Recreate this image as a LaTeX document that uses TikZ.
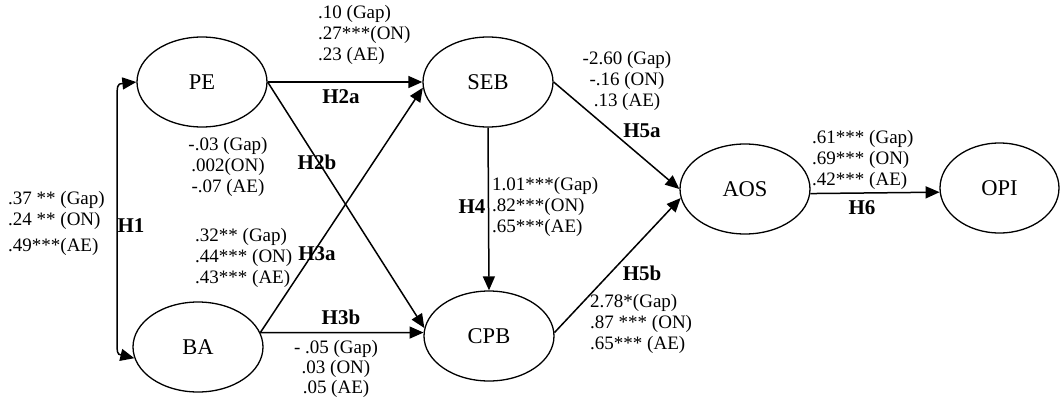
\documentclass[tikz,border=0pt]{standalone}
\usepackage{fontspec}
\setmainfont{Liberation Serif}
\usetikzlibrary{shapes.geometric,arrows.meta}
\begin{document}
\begin{tikzpicture}[x=1pt,y=-1pt,
  lat/.style={draw, ellipse, line width=1.3pt, minimum width=130pt, minimum height=90pt, inner sep=0pt, font=\fontsize{22.5}{26}\selectfont},
  pathline/.style={line width=1.5pt, -{Triangle[length=14pt,width=12pt]}},
  biline/.style={line width=1.5pt, {Triangle[length=14pt,width=12pt]}-{Triangle[length=14pt,width=12pt]}},
  hyp/.style={font=\fontsize{21}{24}\bfseries\selectfont, inner sep=0pt},
  val/.style={font=\fontsize{19}{21}\selectfont, inner sep=0pt, align=left, anchor=north west},
  valc/.style={val, align=center, anchor=north}]
\useasboundingbox (0,0) rectangle (1060,402);
% latent variables
\node[lat] (PE) at (202,82) {PE};
\node[lat] (BA) at (198,347) {BA};
\node[lat] (SEB) at (488,82) {SEB};
\node[lat] (CPB) at (489,336) {CPB};
\node[lat] (AOS) at (745,189) {AOS};
\node[lat, minimum width=119pt] (OPI) at (999.5,188) {OPI};
% H1 bidirectional
\coordinate (h1t) at (117,105);
\coordinate (h1b) at (117,335);
\draw[biline] (PE.west) .. controls (117,84) .. (h1t) -- (h1b) .. controls (117,354) .. (BA.190);
% paths
\draw[pathline] (PE.east) -- (SEB.west);
\draw[pathline] (PE.east) -- (CPB.173);
\draw[pathline] (BA.13) -- (SEB.185);
\draw[pathline] (BA.13) -- (CPB.177);
\draw[pathline] (SEB.south) -- (CPB.north);
\draw[pathline] (SEB.east) -- (AOS.180);
\draw[pathline] (CPB.3) -- (AOS.188);
\draw[pathline] (AOS.356) -- (OPI.184);
% hypothesis labels
\node[hyp] (lH1) at (131,226) {H1};
\node[hyp] (lH2a) at (341,97) {H2a};
\node[hyp] (lH2b) at (317,162) {H2b};
\node[hyp] (lH3a) at (317,254) {H3a};
\node[hyp] (lH3b) at (341,317) {H3b};
\node[hyp] (lH4) at (472,207) {H4};
\node[hyp] (lH5a) at (642,131) {H5a};
\node[hyp] (lH5b) at (642,273) {H5b};
\node[hyp] (lH6) at (862,208) {H6};
% coefficient values
\node[val] (v2a) at (318,5) {.10 (Gap)\\.27***(ON)\\.23 (AE)};
\node[valc] (v2b) at (228,137) {-.03 (Gap)\\.002(ON)\\-.07 (AE)};
\node[val] (v1) at (8,191) {.37 ** (Gap)\\.24 ** (ON)\\[5pt].49***(AE)};
\node[val] (v3a) at (195,228) {.32** (Gap)\\.44*** (ON)\\.43*** (AE)};
\node[valc, font=\fontsize{19}{20}\selectfont] (v3b) at (336,340) {- .05 (Gap)\\.03 (ON)\\.05 (AE)};
\node[val] (v4) at (492,177) {1.01***(Gap)\\.82***(ON)\\.65***(AE)};
\node[valc] (v5a) at (627,51) {-2.60 (Gap)\\-.16 (ON)\\.13 (AE)};
\node[val] (v5b) at (590,294) {2.78*(Gap)\\.87 *** (ON)\\.65*** (AE)};
\node[val] (v6) at (812,130) {.61*** (Gap)\\.69*** (ON)\\.42*** (AE)};
\end{tikzpicture}
\end{document}
